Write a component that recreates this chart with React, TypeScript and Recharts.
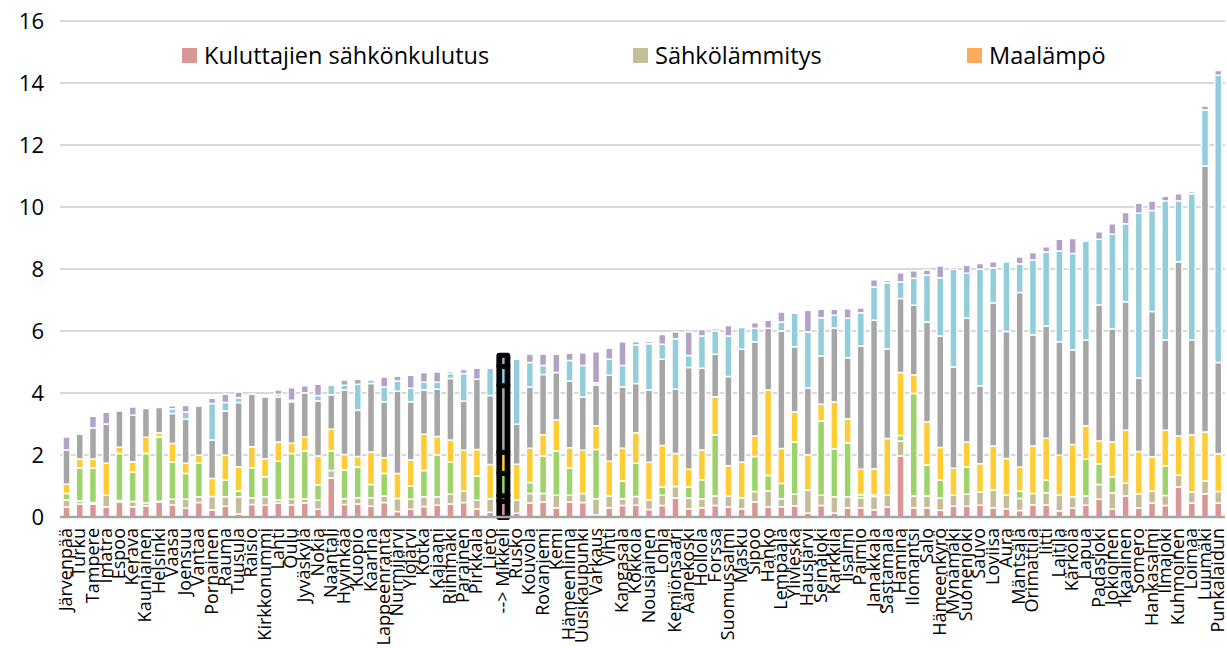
import { BarChart, Bar, XAxis, YAxis, CartesianGrid, Legend, Rectangle } from 'recharts';

const kunnat = [
  'Järvenpää', 'Turku', 'Tampere', 'Imatra', 'Espoo', 'Kerava', 'Kauniainen', 'Helsinki', 'Vaasa', 'Joensuu',
  'Vantaa', 'Pornainen', 'Rauma', 'Tuusula', 'Raisio', 'Kirkkonummi', 'Lahti', 'Oulu', 'Jyväskylä', 'Nokia',
  'Naantali', 'Hyvinkää', 'Kuopio', 'Kaarina', 'Lappeenranta', 'Nurmijärvi', 'Ylöjärvi', 'Kotka', 'Kajaani', 'Riihimäki',
  'Parainen', 'Pirkkala', 'Lieto', '--> Mikkeli', 'Rusko', 'Kouvola', 'Rovaniemi', 'Kemi', 'Hämeenlinna', 'Uusikaupunki',
  'Varkaus', 'Vihti', 'Kangasala', 'Kokkola', 'Nousiainen', 'Lohja', 'Kemiönsaari', 'Äänekoski', 'Hollola', 'Forssa',
  'Suomussalmi', 'Masku', 'Sipoo', 'Hanko', 'Lempäälä', 'Ylivieska', 'Hausjärvi', 'Seinäjoki', 'Karkkila', 'Iisalmi',
  'Paimio', 'Janakkala', 'Sastamala', 'Hamina', 'Ilomantsi', 'Salo', 'Hämeenkyrö', 'Mynämäki', 'Suonenjoki', 'Sauvo',
  'Loviisa', 'Aura', 'Mäntsälä', 'Orimattila', 'Iitti', 'Laitila', 'Kärkölä', 'Lapua', 'Padasjoki', 'Jokioinen',
  'Ikaalinen', 'Somero', 'Hankasalmi', 'Ilmajoki', 'Kuhmoinen', 'Loimaa', 'Luumäki', 'Punkalaidun',
];

// Kuluttajien sähkönkulutus
const kulutus = [
  0.32, 0.42, 0.42, 0.33, 0.48, 0.33, 0.36, 0.48, 0.39, 0.28,
  0.47, 0.23, 0.35, 0.10, 0.40, 0.38, 0.45, 0.39, 0.46, 0.25,
  1.26, 0.40, 0.42, 0.35, 0.47, 0.18, 0.25, 0.34, 0.38, 0.42,
  0.47, 0.26, 0.15, 0.52, 0.12, 0.45, 0.48, 0.30, 0.48, 0.47,
  0.07, 0.30, 0.37, 0.38, 0.24, 0.37, 0.61, 0.27, 0.30, 0.37,
  0.33, 0.27, 0.48, 0.33, 0.33, 0.36, 0.12, 0.37, 0.13, 0.30,
  0.30, 0.23, 0.33, 1.97, 0.30, 0.30, 0.22, 0.35, 0.35, 0.38,
  0.30, 0.27, 0.21, 0.39, 0.39, 0.20, 0.28, 0.38, 0.57, 0.25,
  0.68, 0.29, 0.45, 0.37, 0.97, 0.45, 0.75, 0.45,
];

// Sähkölämmitys
const lammitys = [
  0.23, 0.10, 0.05, 0.37, 0.05, 0.17, 0.09, 0.03, 0.18, 0.29,
  0.18, 0.43, 0.30, 0.55, 0.21, 0.27, 0.10, 0.18, 0.12, 0.29,
  0.24, 0.19, 0.20, 0.27, 0.21, 0.42, 0.32, 0.31, 0.27, 0.31,
  0.36, 0.28, 0.44, 0.18, 0.42, 0.31, 0.28, 0.40, 0.22, 0.29,
  0.52, 0.38, 0.22, 0.28, 0.31, 0.33, 0.37, 0.34, 0.29, 0.31,
  0.35, 0.34, 0.34, 0.51, 0.26, 0.37, 0.74, 0.33, 0.52, 0.35,
  0.32, 0.43, 0.37, 0.48, 0.38, 0.38, 0.39, 0.35, 0.38, 0.43,
  0.57, 0.44, 0.39, 0.37, 0.39, 0.51, 0.37, 0.30, 0.48, 0.53,
  0.41, 0.46, 0.38, 0.32, 0.38, 0.36, 0.41, 0.37,
];

const vihrea = [
  0.21, 1.05, 1.10, 0, 1.52, 0.95, 1.60, 2.07, 1.20, 0.83,
  1.08, 0, 0.54, 0.19, 0.98, 0.65, 1.25, 1.48, 1.55, 0.50,
  0.63, 0.93, 0.99, 0.43, 0.72, 0, 0.43, 0.85, 1.36, 1.04,
  0, 0.78, 0, 0.72, 0, 0.35, 1.21, 1.43, 0.88, 0,
  1.59, 0, 0.57, 1.07, 0, 0.27, 0, 0.36, 0.61, 1.97,
  0, 0, 1.13, 0.50, 0.49, 1.69, 0, 2.40, 1.55, 1.74,
  0.10, 0.05, 0, 0.18, 3.30, 1.00, 0.58, 0, 0.88, 0,
  0, 0, 0.23, 0, 0.41, 0, 0, 1.18, 0.67, 0.52,
  0, 0, 0, 0.96, 0, 0, 0, 0,
];

const keltainen = [
  0.30, 0.30, 0.30, 1.03, 0.20, 0.33, 0.52, 0.14, 0.60, 0.33,
  0.26, 0.58, 0.80, 0.78, 0.68, 0.58, 0.62, 0.33, 0.45, 0.93,
  0.70, 0.50, 0.34, 1.05, 0.51, 0.80, 0.84, 1.17, 0.59, 0.71,
  1.32, 0.86, 1.10, 0.68, 1.16, 1.11, 0.68, 1.00, 0.65, 1.39,
  0.76, 1.12, 1.06, 0.99, 1.22, 1.34, 1.07, 0.57, 0.96, 1.23,
  0.97, 1.16, 0.66, 2.76, 1.13, 0.97, 1.15, 0.54, 1.51, 0.78,
  0.82, 0.85, 1.83, 2.03, 0.60, 1.39, 1.05, 0.87, 0.81, 0.91,
  1.42, 1.18, 0.78, 1.53, 1.35, 1.28, 1.69, 1.08, 0.73, 1.12,
  1.71, 1.36, 1.11, 1.15, 1.26, 1.84, 1.58, 1.22,
];

const harmaa = [
  1.10, 0.80, 1.00, 1.27, 1.17, 1.50, 0.93, 0.81, 0.97, 1.42,
  1.59, 1.24, 1.43, 2.07, 1.69, 1.99, 1.45, 1.34, 1.43, 1.77,
  1.11, 2.08, 1.50, 2.21, 1.81, 2.66, 1.88, 1.43, 1.52, 1.99,
  1.58, 2.26, 2.23, 2.15, 1.29, 1.97, 1.95, 1.53, 2.16, 1.72,
  1.32, 2.77, 1.98, 1.59, 2.33, 2.78, 2.07, 3.28, 2.64, 1.37,
  2.88, 3.64, 3.04, 1.99, 3.79, 2.10, 2.16, 1.55, 2.39, 1.97,
  3.98, 4.79, 2.90, 2.39, 2.25, 3.22, 3.60, 3.27, 3.99, 2.51,
  4.62, 4.09, 5.63, 3.59, 3.62, 3.66, 3.05, 2.76, 4.39, 3.65,
  4.14, 2.37, 4.69, 2.91, 5.62, 3.05, 8.58, 2.94,
];

const sininen = [
  0, 0, 0, 0, 0, 0, 0, 0, 0.15, 0.24,
  0, 1.18, 0.27, 0.16, 0, 0, 0.08, 0.05, 0, 0.18,
  0.31, 0.15, 0.83, 0.11, 0.47, 0.33, 0.43, 0.25, 0.23, 0.16,
  0.90, 0, 0.88, 0.62, 2.10, 0.79, 0.29, 0, 0.66, 1.02,
  0.07, 0.52, 0.69, 1.24, 1.49, 0.48, 1.63, 0.39, 1.04, 0.75,
  1.31, 0.70, 0.44, 0, 0.29, 1.08, 1.80, 1.24, 0.41, 1.27,
  1.07, 1.07, 2.13, 0.53, 0.87, 1.52, 1.88, 3.15, 1.45, 3.76,
  1.13, 2.25, 0.93, 2.41, 2.39, 2.93, 3.11, 3.20, 2.12, 3.05,
  2.52, 5.32, 3.26, 4.48, 1.96, 4.73, 1.81, 9.27,
];

const violetti = [
  0.42, 0, 0.38, 0.38, 0, 0.27, 0, 0, 0.10, 0.21,
  0, 0.17, 0.27, 0.18, 0, 0, 0.15, 0.40, 0.22, 0.36,
  0, 0.17, 0.16, 0, 0.33, 0.15, 0.42, 0.31, 0.33, 0.06,
  0.13, 0.36, 0, 0.33, 0, 0.27, 0.36, 0.59, 0.23, 0.41,
  1.00, 0.35, 0.76, 0.10, 0.07, 0.32, 0.22, 0.76, 0.21, 0.07,
  0.34, 0, 0.18, 0.26, 0.32, 0, 0.70, 0.27, 0.19, 0.31,
  0.15, 0.23, 0.07, 0.30, 0.24, 0.16, 0.38, 0.07, 0.26, 0.19,
  0.19, 0.05, 0.22, 0.24, 0.17, 0.38, 0.48, 0.05, 0.24, 0.34,
  0.36, 0.32, 0.30, 0.16, 0.24, 0.06, 0.13, 0.15,
];

const yTicks = [0, 2, 4, 6, 8, 10, 12, 14, 16];

const korostettu = '--> Mikkeli';

const sarjat = [
  { key: 'kulutus', color: '#DA9694' },
  { key: 'lammitys', color: '#C4BD97' },
  { key: 'vihrea', color: '#9DD36A' },
  { key: 'keltainen', color: '#FFCC33' },
  { key: 'harmaa', color: '#A6A6A6' },
  { key: 'sininen', color: '#92CDDC' },
  { key: 'violetti', color: '#B3A2C7' },
];

const selitteet = [
  { name: 'Kuluttajien sähkönkulutus', color: '#DA9694', left: 182 },
  { name: 'Sähkölämmitys', color: '#C4BD97', left: 633 },
  { name: 'Maalämpö', color: '#FDAA5A', left: 967 },
];

const data = kunnat.map((kunta, i) => ({
  kunta,
  kulutus: kulutus[i],
  lammitys: lammitys[i],
  vihrea: vihrea[i],
  keltainen: keltainen[i],
  harmaa: harmaa[i],
  sininen: sininen[i],
  violetti: violetti[i],
}));

const FONT = '"Open Sans", sans-serif';

function KuntaTick({ x, y, payload }: any) {
  return (
    <g transform={`translate(${x},${y})`}>
      <text
        transform="rotate(-90)"
        x={-3}
        y={0}
        dy="0.3em"
        textAnchor="end"
        fontSize={18}
        fontFamily={FONT}
        fill="#000"
      >
        {payload.value}
      </text>
    </g>
  );
}

// Mikkelin pylväs: musta kehys ja ohut värinen viiva sisällä
function Korostus({ x, y, width, height, color }: any) {
  if (!height) return null;
  return (
    <g>
      <rect x={x - 3.5} y={y - 3} width={width + 7} height={height + 6} rx={3} fill="#000" />
      <rect x={x + width / 2 - 1.25} y={y + 2} width={2.5} height={Math.max(height - 4, 0)} fill={color} />
    </g>
  );
}

function Selite() {
  return (
    <div style={{ position: 'relative', width: 1227, height: 34, fontFamily: FONT, fontSize: 23.5, color: '#000' }}>
      {selitteet.map((s) => (
        <div
          key={s.name}
          style={{ position: 'absolute', left: s.left, top: 0, height: 34, display: 'flex', alignItems: 'center', whiteSpace: 'nowrap' }}
        >
          <span style={{ display: 'inline-block', width: 15, height: 15, background: s.color, marginRight: 7 }} />
          <span>{s.name}</span>
        </div>
      ))}
    </div>
  );
}

export default function App() {
  return (
    <div style={{ width: 1227, height: 648, background: '#fff' }}>
      <style>{'body{margin:0}'}</style>
      <BarChart
        width={1227}
        height={648}
        data={data}
        margin={{ top: 21, right: 2, bottom: 0, left: 0 }}
        barSize={7}
      >
        <CartesianGrid vertical={false} stroke="#D9D9D9" strokeWidth={2} />
        <XAxis
          dataKey="kunta"
          interval={0}
          height={131}
          tick={<KuntaTick />}
          tickLine={false}
          axisLine={{ stroke: '#A6A6A6', strokeWidth: 2.5 }}
        />
        <YAxis
          width={60}
          domain={[0, 16]}
          ticks={yTicks}
          tickLine={false}
          axisLine={false}
          tickMargin={10}
          tick={{ fontSize: 22, fontFamily: FONT, fill: '#000' }}
        />
        <Legend
          layout="horizontal"
          verticalAlign="middle"
          align="center"
          wrapperStyle={{ top: 38, left: 0, width: 1227 }}
          content={() => <Selite />}
        />
        {sarjat.map((s) => (
          <Bar
            key={s.key}
            dataKey={s.key}
            stackId="a"
            fill={s.color}
            stroke="#fff"
            strokeWidth={1.5}
            isAnimationActive={false}
            shape={(p: any) =>
              p.payload && p.payload.kunta === korostettu ? (
                <Korostus x={p.x} y={p.y} width={p.width} height={p.height} color={s.color} />
              ) : (
                <Rectangle {...p} />
              )
            }
          />
        ))}
      </BarChart>
    </div>
  );
}
